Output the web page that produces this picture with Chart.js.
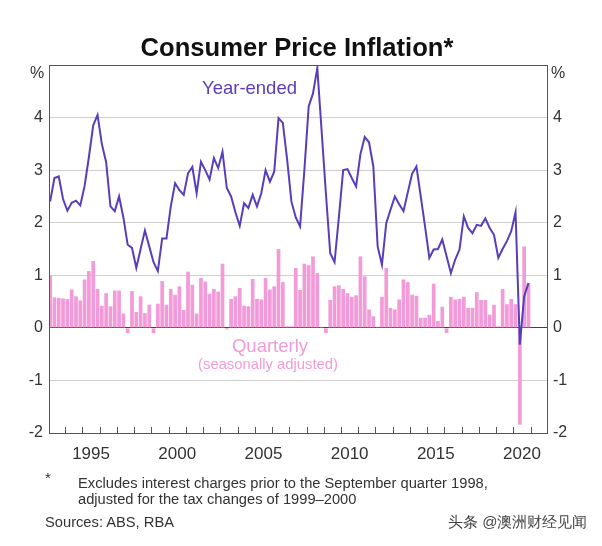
<!DOCTYPE html>
<html>
<head>
<meta charset="utf-8">
<script src="https://cdn.jsdelivr.net/npm/chart.js@4.4.0/dist/chart.umd.min.js"></script>
<style>
    body { margin: 0; background: #fff; }
    #wrap { position: relative; width: 602px; height: 546px; font-family: "Liberation Sans", Arial, sans-serif; color: #333; }
    #wrap canvas { position: absolute; left: 0; top: 0; }
    .txt { position: absolute; white-space: nowrap; line-height: 1; }
</style>
</head>
<body>
<div id="wrap">
    <canvas id="cpiChart" width="602" height="546"></canvas>
    <div class="txt" style="left:297px; top:35px; transform:translateX(-50%); font-weight:bold; font-size:25.6px; color:#111;">Consumer Price Inflation*</div>
    <div class="txt" style="left:30px; top:65px; font-size:16px;">%</div>
    <div class="txt" style="left:551px; top:65px; font-size:16px;">%</div>
    <div class="txt" style="left:202px; top:79px; font-size:18.5px; color:#5a3db8;">Year-ended</div>
    <div class="txt" style="left:270px; top:337px; transform:translateX(-50%); font-size:18.5px; color:#f29bd8;">Quarterly</div>
    <div class="txt" style="left:268px; top:357px; transform:translateX(-50%); font-size:14.8px; color:#f29bd8;">(seasonally adjusted)</div>
    <div class="txt" style="left:45px; top:470px; font-size:15px;">*</div>
    <div class="txt" style="left:78px; top:476px; font-size:14.7px;">Excludes interest charges prior to the September quarter 1998,</div>
    <div class="txt" style="left:78px; top:492px; font-size:14.7px;">adjusted for the tax changes of 1999–2000</div>
    <div class="txt" style="left:45px; top:515px; font-size:14.7px;">Sources: ABS, RBA</div>
    <div class="txt" style="left:448px; top:514px; font-size:15px; color:#444;">头条 @澳洲财经见闻</div>
</div>
<script>
    // quarters from 1993 Q1 to 2020 Q4
    const firstYear = 1993;
    const quarterLabels = [];
    for (let yr = firstYear; yr <= 2020; yr++) {
        for (let q = 1; q <= 4; q++) quarterLabels.push(yr + 'Q' + q);
    }

    // year-ended inflation, per cent
    const yearEnded = [
        2.40, 2.85, 2.88, 2.45, 2.23, 2.38, 2.42, 2.33, 2.70, 3.25, 3.85, 4.05,
        3.50, 3.15, 2.31, 2.22, 2.50, 2.10, 1.58, 1.52, 1.14, 1.50, 1.85, 1.55,
        1.25, 1.08, 1.70, 1.70, 2.31, 2.75, 2.62, 2.53, 2.94, 3.06, 2.56, 3.16,
        3.00, 2.82, 3.23, 3.04, 3.35, 2.66, 2.50, 2.20, 1.94, 2.37, 2.28, 2.53,
        2.31, 2.56, 3.00, 2.78, 2.97, 3.99, 3.90, 3.20, 2.40, 2.10, 1.93, 3.00,
        4.21, 4.46, 4.94, 3.75, 2.55, 1.42, 1.25, 2.10, 3.00, 3.02, 2.85, 2.69,
        3.30, 3.63, 3.53, 3.07, 1.55, 1.20, 1.99, 2.25, 2.50, 2.35, 2.22, 2.58,
        2.93, 3.07, 2.50, 1.93, 1.33, 1.49, 1.50, 1.68, 1.36, 1.04, 1.30, 1.49,
        2.12, 1.90, 1.80, 1.96, 1.94, 2.08, 1.90, 1.77, 1.33, 1.50, 1.65, 1.84,
        2.20, -0.32, 0.60, 0.85
    ];

    // quarterly inflation (seasonally adjusted), per cent
    const quarterly = [
        1.00, 0.58, 0.57, 0.56, 0.55, 0.73, 0.60, 0.52, 0.92, 1.08, 1.27, 0.74,
        0.42, 0.66, 0.41, 0.71, 0.71, 0.27, -0.10, 0.70, 0.30, 0.60, 0.28, 0.44,
        -0.10, 0.46, 0.89, 0.44, 0.74, 0.63, 0.79, 0.34, 1.07, 0.82, 0.27, 0.95,
        0.88, 0.65, 0.74, 0.69, 1.22, -0.03, 0.55, 0.60, 0.76, 0.42, 0.41, 0.93,
        0.55, 0.54, 0.95, 0.73, 0.79, 1.50, 0.87, 0.03, 0.03, 1.14, 0.72, 1.22,
        1.19, 1.36, 1.04, 0.02, -0.10, 0.53, 0.79, 0.81, 0.74, 0.66, 0.59, 0.62,
        1.36, 0.98, 0.35, 0.22, 0.02, 0.59, 1.14, 0.38, 0.35, 0.54, 0.92, 0.87,
        0.63, 0.61, 0.19, 0.19, 0.25, 0.84, 0.13, 0.40, -0.10, 0.59, 0.54, 0.55,
        0.59, 0.38, 0.38, 0.68, 0.53, 0.53, 0.25, 0.44, 0.03, 0.74, 0.45, 0.55,
        0.45, -1.84, 1.55, 0.85
    ];

    const yearTickLabels = ['1995', '2000', '2005', '2010', '2015', '2020'];

    // a quarter sits in the middle of its three months
    function quarterX(label) {
        const parts = label.split('Q');
        return Number(parts[0]) + (Number(parts[1]) - 0.5) / 4;
    }

    const purple = '#5a3db8';
    const pink = '#f29bd8';
    const tickFont = { family: '"Liberation Sans", Arial, sans-serif', size: 16 };

    // box round the plot and inward year ticks on the bottom axis
    const framePlugin = {
        id: 'frame',
        afterDraw(chart) {
            const c = chart.ctx;
            const a = chart.chartArea;
            const x = chart.scales.x;
            c.save();
            c.strokeStyle = '#555';
            c.lineWidth = 1;
            c.strokeRect(a.left + 0.5, a.top + 0.5, a.right - a.left, a.bottom - a.top);
            c.beginPath();
            for (let yr = Math.ceil(x.min); yr <= Math.floor(x.max); yr++) {
                const px = Math.round(x.getPixelForValue(yr)) + 0.5;
                c.moveTo(px, a.bottom);
                c.lineTo(px, a.bottom - 6);
            }
            c.stroke();
            c.restore();
        }
    };

    const yTicks = {
        stepSize: 1,
        padding: 6,
        color: '#333',
        font: tickFont,
        callback: v => (v === 5 ? '' : v)
    };

    const cpiChart = new Chart(document.getElementById('cpiChart'), {
        data: {
            datasets: [{
                type: 'line',
                label: 'Year-ended',
                data: yearEnded.map((v, i) => ({ x: quarterX(quarterLabels[i]), y: v })),
                borderColor: purple,
                borderWidth: 2,
                pointRadius: 0,
                tension: 0,
                order: 0
            }, {
                type: 'bar',
                label: 'Quarterly',
                data: quarterly.map((v, i) => ({ x: quarterX(quarterLabels[i]), y: v })),
                backgroundColor: pink,
                borderWidth: 0,
                barPercentage: 0.86,
                categoryPercentage: 1,
                order: 1
            }]
        },
        options: {
            responsive: false,
            animation: false,
            layout: {
                padding: { top: 65, bottom: 83, left: 0, right: 0 }
            },
            plugins: {
                legend: { display: false },
                tooltip: { enabled: false }
            },
            scales: {
                x: {
                    type: 'linear',
                    offset: false,
                    min: 1993.06,
                    max: 2021.95,
                    afterBuildTicks: scale => {
                        scale.ticks = yearTickLabels.map(l => ({ value: Number(l) + 0.5 }));
                    },
                    afterFit: scale => { scale.height = 30; },
                    ticks: {
                        autoSkip: false,
                        maxRotation: 0,
                        padding: 3,
                        color: '#333',
                        font: { family: tickFont.family, size: 17 },
                        callback: v => Math.floor(v)
                    },
                    grid: { display: false, offset: false },
                    border: { display: false }
                },
                y: {
                    position: 'left',
                    min: -2,
                    max: 5,
                    afterFit: scale => { scale.width = 49; },
                    ticks: yTicks,
                    grid: {
                        drawTicks: false,
                        color: ctx => (ctx.tick && ctx.tick.value === 0 ? '#444' : '#cfcfcf')
                    },
                    border: { display: false }
                },
                y2: {
                    position: 'right',
                    min: -2,
                    max: 5,
                    afterFit: scale => { scale.width = 55; },
                    ticks: yTicks,
                    grid: { display: false, drawTicks: false },
                    border: { display: false }
                }
            }
        },
        plugins: [framePlugin]
    });
</script>
</body>
</html>
